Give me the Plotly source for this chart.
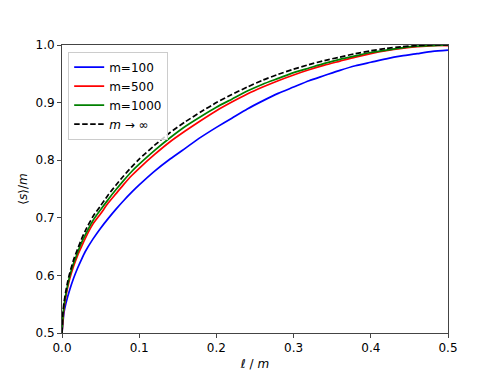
import plotly.graph_objects as go

# shared grid for the large-m curves
x_grid = [0, 0.001, 0.0025, 0.005, 0.0075, 0.01, 0.015, 0.02, 0.025, 0.03, 0.04, 0.05, 0.06, 0.07, 0.08,
          0.09, 0.10, 0.12, 0.14, 0.16, 0.18, 0.20, 0.22, 0.24, 0.26, 0.28, 0.30, 0.32, 0.34, 0.36, 0.38,
          0.40, 0.42, 0.44, 0.46, 0.48, 0.50]

# m -> infinity (black dashed)
y_inf = [0.500, 0.532, 0.552, 0.573, 0.590, 0.604, 0.627, 0.645, 0.662, 0.677, 0.702, 0.721, 0.740, 0.757,
         0.773, 0.788, 0.802, 0.826, 0.848, 0.867, 0.884, 0.900, 0.914, 0.927, 0.939, 0.949, 0.958, 0.966,
         0.973, 0.979, 0.985, 0.990, 0.994, 0.997, 0.999, 1.000, 1.000]

# m = 1000 (green)
y_m1000 = [0.500, 0.526, 0.546, 0.567, 0.584, 0.599, 0.621, 0.639, 0.656, 0.670, 0.695, 0.714, 0.732, 0.749,
           0.765, 0.780, 0.793, 0.817, 0.839, 0.859, 0.876, 0.892, 0.906, 0.920, 0.932, 0.942, 0.952, 0.960,
           0.968, 0.975, 0.981, 0.987, 0.991, 0.995, 0.998, 0.999, 1.000]

# m = 500 (red)
y_m500 = [0.500, 0.518, 0.542, 0.563, 0.580, 0.594, 0.616, 0.634, 0.649, 0.664, 0.689, 0.707, 0.726, 0.742,
          0.758, 0.773, 0.786, 0.810, 0.832, 0.851, 0.869, 0.886, 0.901, 0.915, 0.927, 0.938, 0.948, 0.957,
          0.965, 0.972, 0.979, 0.985, 0.990, 0.994, 0.997, 0.999, 0.999]

# m = 100 (blue)
x_m100 = [0, 0.0025, 0.005, 0.01, 0.015, 0.02, 0.025, 0.03, 0.04, 0.05, 0.06, 0.07, 0.08, 0.09, 0.10, 0.12,
          0.14, 0.16, 0.18, 0.20, 0.22, 0.24, 0.26, 0.28, 0.30, 0.32, 0.34, 0.36, 0.38, 0.40, 0.42, 0.44,
          0.46, 0.48, 0.50]
y_m100 = [0.500, 0.535, 0.551, 0.575, 0.595, 0.612, 0.627, 0.641, 0.663, 0.682, 0.699, 0.715, 0.730, 0.744,
          0.757, 0.781, 0.802, 0.821, 0.840, 0.857, 0.873, 0.889, 0.903, 0.916, 0.927, 0.938, 0.947, 0.956,
          0.964, 0.970, 0.976, 0.981, 0.985, 0.989, 0.991]

x_ticks = [0.0, 0.1, 0.2, 0.3, 0.4, 0.5]
y_ticks = [0.5, 0.6, 0.7, 0.8, 0.9, 1.0]

FONT = "DejaVu Sans"
AX = "#444444"

fig = go.Figure()
series = [
    (x_m100, y_m100, "m=100", "#0000ff", "solid"),
    (x_grid, y_m500, "m=500", "#ff0000", "solid"),
    (x_grid, y_m1000, "m=1000", "#008000", "solid"),
    (x_grid, y_inf, "<i>m</i> → ∞", "#000000", "5.5px,2.5px"),
]
for xs, ys, name, col, dash in series:
    fig.add_trace(go.Scatter(x=xs, y=ys, mode="lines", name=name,
                             line=dict(color=col, width=1.7, dash=dash, shape="spline", smoothing=0.6)))

axis_common = dict(showgrid=False, zeroline=False, showline=True, linecolor=AX, linewidth=1,
                   mirror=True, ticks="outside", ticklen=4, tickwidth=1, tickcolor=AX,
                   tickfont=dict(family=FONT, size=12, color="#000"), tickformat=".1f",
                   automargin=False)

fig.update_layout(
    width=498, height=374,
    margin=dict(l=62, r=50, t=45, b=41),
    paper_bgcolor="white", plot_bgcolor="white",
    font=dict(family=FONT, size=12, color="#000"),
    xaxis=dict(range=[0, 0.5], tickvals=x_ticks,
               title=dict(text="ℓ / <i>m</i>", font=dict(family=FONT, size=12), standoff=5),
               **axis_common),
    yaxis=dict(range=[0.5, 1.0], tickvals=y_ticks,
               title=dict(text="⟨<i>s</i>⟩/<i>m</i>", font=dict(family=FONT, size=12), standoff=5),
               **axis_common),
    legend=dict(x=0.016, y=0.977, xanchor="left", yanchor="top",
                bgcolor="rgba(255,255,255,0.8)", bordercolor="#cccccc", borderwidth=1,
                font=dict(family=FONT, size=12), tracegroupgap=0),
    showlegend=True,
)

fig.write_html("out.html", config={"displayModeBar": False},
               post_script="document.body.style.margin='0';document.body.style.overflow='hidden';")
